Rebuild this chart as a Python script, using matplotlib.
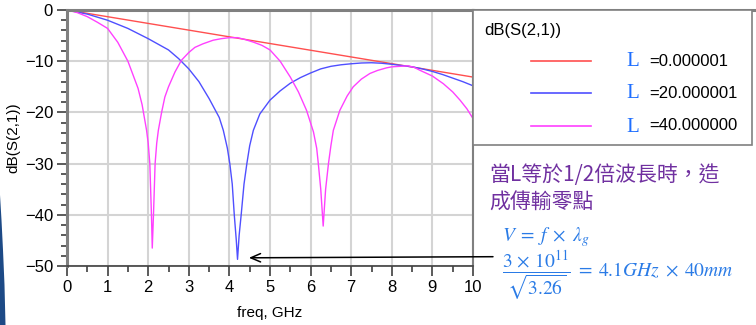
import matplotlib
matplotlib.use("Agg")
import matplotlib.pyplot as plt
from matplotlib.lines import Line2D
from matplotlib.patches import Rectangle, Polygon
from matplotlib.ticker import MultipleLocator

plt.rcParams['font.family'] = ['Liberation Sans', 'DejaVu Sans']
plt.rcParams['mathtext.fontset'] = 'stix'

# values
freq_l0 = [0.0, 10.0]
db_l0 = [0.0, -13.1]

freq_l20 = [0.0, 0.25, 0.5, 0.75, 1.0, 1.25, 1.5, 1.75, 2.0, 2.25, 2.5, 2.75, 3.0, 3.25,
            3.5, 3.75, 3.85, 3.95, 4.01, 4.07, 4.12, 4.17, 4.2, 4.24, 4.29, 4.36, 4.43,
            4.5, 4.59, 4.75, 5.0, 5.25, 5.5, 5.75, 6.0, 6.25, 6.5, 6.75, 7.0, 7.25, 7.5,
            7.75, 8.0, 8.25, 8.5, 8.75, 9.0, 9.25, 9.5, 9.75, 10.0]
db_l20 = [0.0, -0.4, -0.8, -1.4, -2.0, -2.8, -3.6, -4.6, -5.6, -6.7, -7.8, -9.5, -11.5, -14.0,
          -17.3, -21.0, -23.5, -27.0, -30.0, -34.0, -40.0, -45.0, -48.7, -44.0, -40.0, -34.0, -30.0,
          -26.5, -23.5, -20.3, -17.6, -15.8, -14.3, -13.2, -12.3, -11.5, -11.0, -10.7, -10.5, -10.35, -10.3,
          -10.4, -10.6, -10.85, -11.1, -11.5, -12.0, -12.6, -13.3, -14.0, -14.8]

freq_l40 = [0.0, 0.25, 0.5, 0.75, 1.0, 1.25, 1.5, 1.75, 1.85, 1.96, 2.0, 2.04, 2.08, 2.10,
            2.13, 2.17, 2.21, 2.25, 2.33, 2.41, 2.5, 2.66, 2.82, 3.0, 3.15, 3.35, 3.6, 3.8,
            4.0, 4.2, 4.4, 4.6, 4.8, 5.0, 5.25, 5.5, 5.7, 5.9, 6.07, 6.15, 6.19, 6.25, 6.31,
            6.37, 6.44, 6.5, 6.56, 6.72, 6.9, 7.05, 7.25, 7.46, 7.65, 7.87, 8.0, 8.2, 8.4,
            8.55, 8.7, 9.0, 9.27, 9.5, 9.68, 9.85, 10.0]
db_l40 = [0.0, -0.5, -1.3, -2.4, -3.6, -6.3, -10.0, -15.3, -18.5, -23.5, -26.0, -30.0, -40.0, -46.5,
          -40.0, -30.0, -26.0, -23.5, -20.0, -17.0, -15.0, -12.1, -9.8, -8.3, -7.3, -6.6, -5.9, -5.6,
          -5.4, -5.4, -5.8, -6.3, -6.9, -7.8, -10.0, -13.1, -16.0, -19.6, -23.8, -27.0, -30.0, -35.0, -42.2,
          -35.0, -30.0, -26.5, -23.5, -19.6, -16.8, -15.0, -13.5, -12.4, -11.8, -11.3, -11.1, -11.0, -10.9,
          -11.2, -11.8, -12.9, -14.4, -16.0, -17.6, -19.3, -21.2]

legend_values = ["=0.000001", "=20.000001", "=40.000000"]

W, H = 756, 325


def px(x, y):
    # figure pixel (from top-left) -> figure fraction
    return x / W, (H - y) / H


fig = plt.figure(figsize=(W / 100, H / 100), dpi=100)
fig.patch.set_facecolor("white")

# slide background edge at lower left
fig.patches.append(Polygon([px(0, 195), px(1.5, 220), px(3, 250), px(4.5, 285), px(5.5, 325), px(0, 325)],
                           closed=True, transform=fig.transFigure, facecolor="#1d4a86",
                           edgecolor="none", zorder=0))

ax = fig.add_axes([67 / W, (H - 266) / H, (473 - 67) / W, (266 - 10) / H])

line_colors = ["#ff4f4f", "#4f4fff", "#ff40ff"]
lines = []
lines.append(ax.plot(freq_l0, db_l0, color=line_colors[0], lw=1.0)[0])
lines.append(ax.plot(freq_l20, db_l20, color=line_colors[1], lw=1.0)[0])
lines.append(ax.plot(freq_l40, db_l40, color=line_colors[2], lw=1.0)[0])

ax.set_xlim(0, 10)
ax.set_ylim(-50, 0)
ax.xaxis.set_major_locator(MultipleLocator(1))
ax.xaxis.set_minor_locator(MultipleLocator(0.5))
ax.yaxis.set_major_locator(MultipleLocator(10))
ax.yaxis.set_minor_locator(MultipleLocator(2))
ax.grid(True, which="major", color="#d4d4d4", lw=1.5)
ax.set_axisbelow(True)
ax.tick_params(which="major", direction="out", length=7, width=1.2, color="#404040",
               labelsize=12, pad=3)
ax.tick_params(which="minor", direction="out", length=4, width=1.2, color="#404040")

for side in ["top", "left"]:
    ax.spines[side].set_color("#808080")
    ax.spines[side].set_linewidth(2.2)
ax.spines["right"].set_color("#808080")
ax.spines["right"].set_linewidth(1.5)
ax.spines["bottom"].set_color("#404040")
ax.spines["bottom"].set_linewidth(1.2)

ax.set_xlabel("freq, GHz", fontsize=11, labelpad=8)
ax.set_ylabel("dB(S(2,1))", fontsize=11, labelpad=3)

# top border continues over the legend box
fig.add_artist(Line2D([px(473, 10)[0], px(756, 10)[0]], [px(0, 10)[1]] * 2,
                      transform=fig.transFigure, color="#808080", lw=2.2))

# legend box
lx0, ly0 = px(473, 145)
lx1, ly1 = px(752, 10)
fig.patches.append(Rectangle((lx0, ly0), lx1 - lx0, ly1 - ly0, transform=fig.transFigure,
                             facecolor="white", edgecolor="#808080", lw=1.2, zorder=2))
fig.text(*px(484, 31), "dB(S(2,1))", fontsize=12, va="center", ha="left", zorder=3)
for i, yy in enumerate([61, 93, 126]):
    xa, ya = px(531, yy)
    xb, _ = px(591, yy)
    fig.add_artist(Line2D([xa, xb], [ya, ya], transform=fig.transFigure,
                          color=lines[i].get_color(), lw=1.2, zorder=3))
    fig.text(*px(626, yy + 1), "L", fontsize=15, color="#1f6fff", family="Liberation Serif",
             va="center", ha="left", zorder=3)
    fig.text(*px(649, yy), legend_values[i], fontsize=12, va="center", ha="left", zorder=3)

# annotation text
cjk = ["Noto Sans CJK TC", "DejaVu Sans"]
fig.text(*px(489, 175), "當L等於1/2倍波長時，造", fontsize=15, color="#7030a0",
         family=cjk, va="center", ha="left")
fig.text(*px(489, 203), "成傳輸零點", fontsize=15, color="#7030a0",
         family=cjk, va="center", ha="left")
fig.text(*px(502, 237), r"$V\;=\;f\;\times\;\lambda_g$", fontsize=14, color="#2a7be6",
         va="center", ha="left")
fig.text(*px(502, 276), r"$\dfrac{3\,\times\,10^{11}}{\sqrt{3.26}}\;=\;4.1GHz\;\times\;40mm$",
         fontsize=14, color="#2a7be6", va="center", ha="left")

# arrow pointing at the 20 mm null
ax.annotate("", xy=(4.48, -48.4), xycoords="data",
            xytext=px(493, 256.7), textcoords="figure fraction",
            arrowprops=dict(arrowstyle="->,head_length=0.7,head_width=0.3", color="black",
                            lw=1.1, shrinkA=0, shrinkB=0),
            annotation_clip=False)

fig.savefig("out.png", dpi=100)
